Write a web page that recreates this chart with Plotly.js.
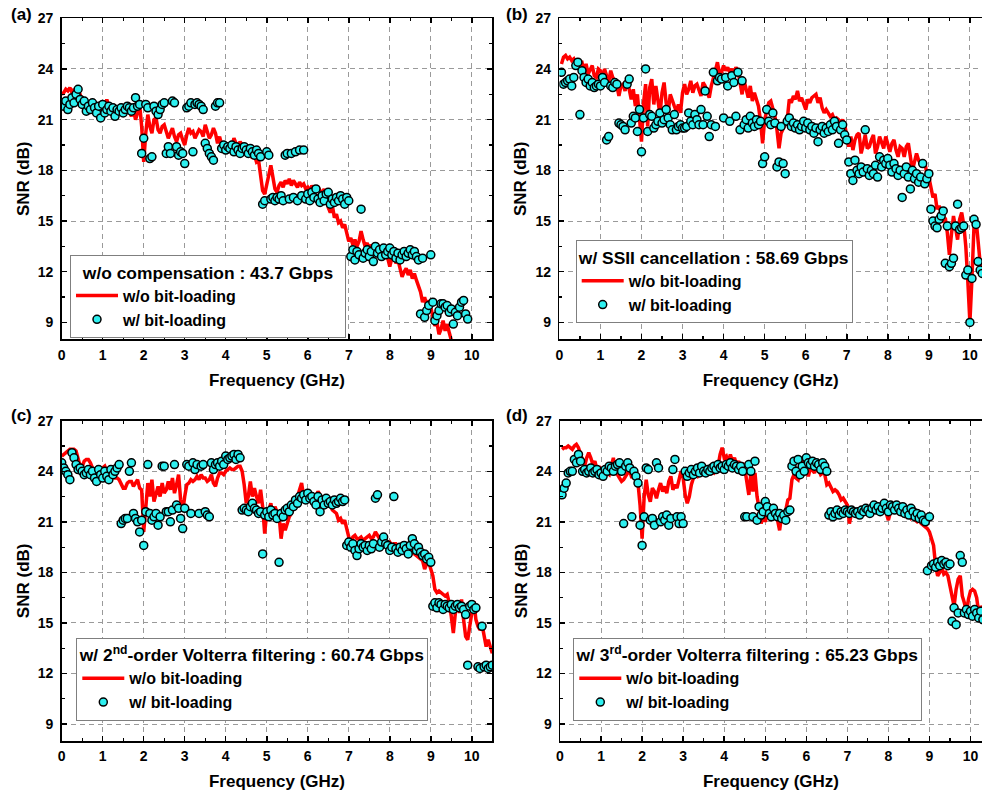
<!DOCTYPE html>
<html>
<head>
<meta charset="utf-8">
<script src="https://cdn.plot.ly/plotly-3.0.1.min.js"></script>
<style>html,body{margin:0;padding:0;background:#fff;}#chart{width:982px;height:795px;}</style>
</head>
<body>
<div id="chart"></div>
<script>
// ---------- data (SNR in dB, subcarriers every 0.05 GHz) ----------
const freqStep = 0.05;

// (a) w/o compensation
const aLineStart = 0.0;
const aLineSNR = [
22.5,22.6,22.8,22.7,22.9,22.6,22.8,22.4,22.7,22.5,
22.0,22.3,21.4,21.8,22.1,21.7,21.9,21.6,22.0,21.8,
21.4,21.7,22.2,21.8,21.5,21.9,21.6,21.3,21.7,21.5,
21.7,21.4,21.8,21.5,21.2,21.6,21.0,21.4,21.9,20.6,
18.5,20.2,21.3,20.6,20.2,21.0,21.1,20.4,20.2,20.6,
20.7,20.3,19.9,20.2,20.5,20.0,19.7,20.1,20.2,19.8,
19.5,20.1,20.5,20.2,20.3,19.9,20.2,20.4,20.3,20.0,
20.7,20.3,19.9,20.1,20.5,20.2,19.6,20.0,19.5,19.4,
19.3,19.5,19.2,19.4,19.9,19.6,19.4,19.7,19.5,19.2,
19.0,18.8,19.2,18.7,18.9,18.5,18.6,17.6,16.8,16.6,
17.2,17.9,18.3,17.6,16.9,16.7,17.1,17.3,17.0,17.4,
17.2,17.5,17.1,17.4,17.2,17.0,17.3,17.1,17.2,16.9,
17.0,16.8,17.1,16.9,16.7,17.0,16.8,16.6,16.9,16.5,
15.8,15.5,15.9,15.2,15.4,14.9,15.0,14.6,14.8,14.3,
13.8,14.0,13.6,13.9,13.5,13.8,14.4,13.9,13.5,13.7,
13.3,13.6,13.2,13.5,13.0,13.4,13.1,12.9,13.3,12.8,
12.3,12.8,13.0,12.5,12.7,12.2,11.7,12.0,12.2,11.8,
12.1,11.6,11.9,11.5,11.2,10.8,10.2,10.5,10.0,10.3,
9.9,9.4,8.8,9.0,8.3,8.6,9.1,8.5,8.9,8.4,
8.0,7.5
];
const aDotStart = 0.0;
const aDotSNR = [
22.0,21.8,22.1,21.6,21.9,22.3,22.0,22.5,22.8,22.2,
21.9,22.1,21.5,21.8,21.6,22.0,21.7,21.4,21.8,21.1,
21.9,21.4,21.6,21.8,21.5,21.7,21.2,21.6,21.5,21.7,
21.4,21.6,21.8,21.7,21.5,21.7,22.3,21.8,21.9,19.0,
19.9,21.9,21.7,18.7,18.8,21.8,21.5,21.3,21.6,21.9,
22.0,19.0,19.4,19.0,22.1,22.0,19.4,18.9,19.1,19.0,
18.4,21.7,21.8,22.0,19.1,21.9,22.0,21.9,21.8,21.6,
19.6,19.3,19.0,18.8,18.6,21.8,22.0,22.0,19.3,19.5,
19.2,19.4,19.3,19.5,19.1,19.4,19.2,19.0,19.3,19.4,
19.2,19.0,19.3,19.1,18.9,19.2,19.0,18.8,16.0,16.2,
19.1,18.9,16.3,16.4,16.2,16.4,16.3,16.5,16.2,18.9,
19.0,16.3,19.0,16.4,19.1,16.2,19.2,16.5,19.2,16.3,
16.6,16.2,16.7,16.4,16.9,16.3,16.1,16.5,16.2,16.6,
16.7,16.0,16.3,16.1,16.4,16.2,16.5,16.3,16.0,16.4,
16.2,12.9,13.3,12.7,13.2,13.0,15.7,12.8,13.1,13.3,
12.9,13.2,12.6,13.5,13.1,13.3,12.9,13.4,13.0,13.2,
13.4,13.0,13.2,12.8,13.1,12.7,13.0,13.2,12.9,13.1,
13.3,13.0,13.2,12.9,12.7,9.5,12.8,9.3,9.7,10.0,
13.0,10.2,9.1,9.4,9.7,10.1,10.1,9.9,10.0,9.6,
9.8,8.9,9.6,9.4,9.9,10.2,10.3,9.5,9.2
];

// (b) w/ SSII cancellation
const bLineStart = 0.05;
const bLineSNR = [
24.3,24.7,24.8,24.6,24.7,24.5,24.6,24.3,24.0,24.4,
24.4,23.8,24.3,23.7,23.9,24.2,23.6,23.5,24.0,23.9,
23.5,24.0,23.6,23.2,23.9,23.5,23.3,23.0,22.4,23.0,
23.1,22.7,23.4,22.9,22.2,22.8,21.8,22.5,21.2,19.7,
22.0,23.1,20.6,22.9,23.4,21.9,23.0,22.1,21.3,22.6,
23.2,22.0,21.4,22.5,22.1,21.8,21.5,21.9,21.4,22.6,
23.1,22.5,22.8,23.3,22.6,23.0,23.1,22.7,22.4,23.2,
23.0,22.6,22.3,23.0,23.4,23.9,24.4,23.7,23.8,24.2,
23.9,24.1,23.8,24.0,23.7,24.1,23.9,23.2,22.5,23.3,
22.8,22.3,23.0,22.1,22.6,22.2,21.8,20.9,19.6,21.0,
21.5,22.0,22.1,21.6,21.2,20.4,19.3,20.2,20.5,20.8,
21.0,22.2,22.0,22.4,22.2,22.7,22.1,22.3,21.9,21.6,
22.2,22.0,22.3,22.4,22.5,22.0,22.3,21.7,21.4,21.6,
21.4,21.2,21.3,21.0,21.1,21.0,20.8,21.0,20.7,20.0,
19.4,20.0,19.2,19.8,20.1,20.2,19.0,19.5,20.1,19.3,
19.4,19.8,20.1,19.0,19.4,20.0,19.6,19.3,20.0,19.5,
19.1,19.6,19.8,19.2,18.8,19.4,19.3,18.8,19.4,19.6,
18.8,18.0,18.5,19.0,18.6,18.4,18.2,18.5,17.8,17.6,
17.0,16.4,16.6,15.7,15.9,15.5,14.9,15.2,14.3,13.0,
14.2,15.3,14.6,13.9,15.1,15.5,14.8,13.5,11.4,9.0,
11.6,14.7,15.1,13.8,12.5,11.8
];
const bDotStart = 0.05;
const bDotSNR = [
23.8,23.1,23.2,23.3,23.4,23.0,23.5,24.2,24.4,21.3,
23.9,23.5,23.2,23.4,23.0,23.2,22.9,23.0,23.1,23.0,
23.5,23.2,19.8,20.0,23.0,22.9,23.2,23.1,20.8,20.7,
20.6,20.4,23.1,23.4,20.8,21.2,21.1,20.3,21.6,19.1,
21.1,24.0,20.3,21.3,21.2,20.5,20.7,20.9,21.4,20.8,
21.0,21.6,21.1,20.7,20.4,21.3,20.4,20.6,20.7,20.5,
20.5,20.6,21.4,20.9,20.7,21.3,21.0,20.7,21.6,20.7,
22.7,21.2,20.0,20.7,23.8,20.6,23.3,23.5,23.4,21.1,
23.5,23.0,20.9,23.6,23.2,21.2,23.8,20.4,23.3,20.7,
21.0,20.5,21.2,20.8,20.6,21.0,20.7,20.9,18.4,18.8,
21.6,20.9,20.7,21.4,20.8,18.2,18.5,20.6,18.4,17.8,
20.9,21.1,20.6,20.8,20.5,20.7,20.4,20.6,20.9,20.5,
20.8,20.4,20.6,20.2,20.5,19.7,20.4,20.6,20.2,20.5,
20.3,20.7,20.4,20.9,20.6,19.6,20.4,20.7,20.1,19.8,
18.5,17.8,17.4,18.6,18.0,17.8,18.2,17.9,20.4,18.1,
17.7,18.0,17.8,18.3,17.6,18.8,18.2,18.6,18.4,18.7,
18.3,17.9,18.4,18.1,17.7,18.0,16.4,17.8,18.2,17.6,
16.9,18.0,17.5,17.8,17.3,17.6,18.4,17.2,17.5,17.8,
15.7,15.0,14.7,14.6,15.1,15.3,15.6,12.5,14.7,12.3,
12.5,12.8,14.7,16.0,14.5,14.6,14.7,11.8,12.1,9.0,
11.6,15.1,14.8,12.6,12.1,11.9
];

// (c) w/ 2nd-order Volterra filtering
const cLineStart = 0.0;
const cLineSNR = [
24.9,25.0,25.1,25.2,25.3,25.3,25.3,25.2,24.8,24.3,
24.3,24.6,24.7,24.7,24.5,24.2,24.1,24.2,24.0,23.9,
24.2,24.3,24.0,24.0,23.7,23.8,23.6,23.6,23.5,23.2,
23.0,23.0,23.3,23.4,23.4,23.1,23.3,23.5,23.0,22.9,
20.4,21.8,23.3,22.5,23.5,22.2,22.6,23.1,22.5,23.3,
22.7,22.9,23.4,22.9,23.6,22.7,23.2,23.8,22.3,21.6,
22.5,23.2,23.3,23.5,23.4,23.5,23.7,23.5,23.8,23.6,
23.6,23.4,23.5,23.8,23.3,23.1,23.6,23.9,23.9,23.8,
24.0,24.1,24.2,24.1,24.1,24.2,24.3,24.3,24.0,23.2,
22.1,22.5,23.4,22.5,23.0,22.5,22.1,22.9,21.9,20.3,
21.6,21.7,22.1,21.3,21.9,21.6,21.4,20.0,20.9,20.5,
20.9,21.3,21.5,21.9,22.2,22.5,22.9,23.3,22.5,22.3,
22.6,22.5,22.2,22.3,22.5,22.8,22.6,22.2,22.3,22.4,
22.1,22.0,21.7,21.6,21.5,21.1,21.2,20.9,21.1,20.6,
20.1,19.6,20.1,20.2,20.0,20.0,20.1,19.9,20.0,20.1,
20.2,20.0,20.1,20.4,20.2,20.0,20.2,19.9,19.6,19.7,
19.8,19.6,19.7,19.7,19.5,19.4,19.5,19.3,19.3,19.2,
19.3,19.4,19.1,19.0,18.9,18.8,18.7,18.2,18.5,18.6,
18.2,17.8,17.0,16.8,16.9,16.8,16.7,16.6,16.7,16.2,
15.4,14.4,15.6,16.2,15.6,16.4,15.2,14.2,14.0,15.0,
15.6,16.3,15.2,14.8,14.6,14.9,14.2,13.6,14.0,13.5,
13.2
];
const cDotStart = 0.0;
const cDotSNR = [
24.5,24.2,24.0,23.8,23.5,25.1,24.8,24.4,24.1,24.2,
24.0,23.8,23.9,24.1,23.8,24.0,23.6,23.4,24.1,23.8,
23.6,24.0,23.7,23.5,24.1,23.8,24.0,24.2,24.4,20.9,
21.1,21.2,21.2,24.0,24.5,21.5,21.2,21.0,20.4,21.1,
19.6,21.6,24.4,21.5,21.1,21.3,21.5,20.8,21.3,24.3,
24.3,21.6,21.6,21.0,21.7,24.4,22.0,21.8,21.2,20.6,
21.8,24.4,24.3,21.5,24.5,24.1,24.4,21.5,24.3,24.4,
21.6,21.4,21.3,24.5,24.1,24.4,24.5,24.3,24.6,24.4,
24.9,24.7,24.8,24.9,25.0,24.7,25.0,24.8,21.7,21.8,
21.7,21.6,21.9,22.1,21.8,21.7,21.5,21.6,19.1,21.4,
21.6,21.3,21.7,21.4,21.5,21.2,18.6,21.5,21.3,21.7,
21.8,21.6,22.0,21.9,22.3,22.1,22.5,22.4,22.6,22.3,
22.7,22.4,22.5,22.2,22.0,22.5,21.6,22.3,22.0,22.4,
22.1,22.2,22.0,22.3,22.1,22.2,22.4,22.2,22.3,19.6,
19.8,19.5,19.7,19.3,19.0,19.4,19.7,19.5,19.6,19.3,
19.6,19.4,19.7,22.4,22.6,19.5,19.8,20.1,19.7,19.6,
19.3,19.5,22.5,19.4,19.2,19.5,19.3,19.6,19.4,19.1,
19.6,20.0,19.7,19.3,19.5,19.2,19.0,19.1,18.8,18.9,
18.6,16.0,16.2,15.9,16.2,16.1,15.8,16.1,16.0,15.9,
16.1,15.8,16.0,16.1,15.9,16.0,15.8,15.5,12.5,16.0,
16.1,15.8,15.9,12.4,12.3,14.8,12.4,12.5,12.3,12.4,
12.5
];

// (d) w/ 3rd-order Volterra filtering
const dLineStart = 0.05;
const dLineSNR = [
25.3,25.4,25.4,25.5,25.4,25.3,25.5,25.6,25.4,25.0,
24.6,24.3,24.8,25.1,24.8,24.4,24.6,24.1,24.3,24.0,
23.8,24.2,23.9,23.8,24.3,24.8,23.9,23.8,23.6,23.4,
23.5,23.7,23.9,24.0,23.6,23.9,23.5,23.3,22.0,20.0,
22.5,23.5,22.6,22.2,23.0,22.8,22.4,22.9,23.3,22.8,
23.1,22.7,23.4,23.7,22.9,23.2,23.0,23.5,24.0,23.6,
22.6,22.1,22.5,23.2,23.6,23.8,23.7,23.9,23.8,23.9,
24.0,23.8,24.1,24.0,23.9,24.1,24.3,25.0,25.4,24.8,
24.9,24.5,25.0,24.6,24.8,24.4,24.6,24.3,24.5,24.2,
23.2,22.6,23.9,22.8,23.9,22.5,21.8,20.9,21.4,21.0,
21.5,21.9,21.6,21.9,21.7,21.2,20.5,21.4,21.5,21.7,
22.3,22.4,23.5,23.8,23.6,23.5,24.1,24.3,24.8,24.4,
23.7,24.2,24.0,23.9,24.3,24.1,23.8,23.9,23.8,23.2,
23.3,23.0,22.8,22.9,22.8,22.6,22.3,22.4,22.2,22.0,
20.9,21.5,21.7,21.6,21.4,21.6,21.7,21.5,21.8,21.6,
21.7,21.5,21.8,21.7,21.9,21.7,21.8,21.6,21.5,21.1,
21.6,21.8,21.6,21.7,21.5,21.6,21.4,21.5,21.3,21.4,
21.2,21.3,21.1,21.0,21.1,20.9,20.8,20.7,20.6,20.4,
20.0,19.6,18.4,17.8,18.0,18.3,17.9,18.0,17.8,17.2,
16.8,16.0,17.0,17.6,17.8,16.6,16.2,15.6,16.4,16.9,
17.0,16.9,16.5,15.6,16.0,15.8
];
const dDotStart = 0.05;
const dDotSNR = [
22.6,23.0,23.3,23.9,24.0,24.0,24.7,24.5,25.0,24.6,
24.0,24.1,23.9,24.0,24.2,23.9,24.0,24.1,23.8,23.9,
23.7,24.1,24.0,24.3,24.2,24.0,24.3,24.4,24.5,24.0,
20.9,24.3,24.5,24.2,21.3,24.0,23.7,23.3,20.8,19.6,
21.3,24.2,24.1,21.1,21.2,20.8,24.5,24.2,21.0,21.3,
21.1,21.4,20.8,21.2,24.1,24.7,21.3,20.9,21.3,20.9,
24.0,23.7,23.9,24.1,23.8,24.0,24.2,23.9,24.3,24.0,
23.9,24.1,24.0,24.2,24.3,24.1,24.4,24.2,24.3,24.1,
24.4,24.3,24.5,24.2,24.4,24.3,24.1,24.3,24.0,21.3,
21.3,24.4,24.0,21.3,24.6,21.1,21.9,21.4,21.6,22.2,
21.9,21.5,21.3,21.8,21.5,21.3,21.5,21.2,21.4,21.1,
21.6,21.7,24.3,24.6,24.0,24.7,23.8,24.3,24.0,24.8,
24.5,24.4,24.6,24.3,24.5,24.4,24.1,24.5,24.3,24.0,
21.4,21.6,21.3,21.5,21.7,21.4,21.6,21.5,21.7,21.6,
21.5,21.7,21.6,21.5,21.6,21.4,21.7,21.6,21.8,21.7,
21.5,21.8,22.0,21.7,21.9,21.6,21.8,22.1,21.8,21.6,
22.0,21.9,21.7,22.0,21.8,21.6,21.9,21.5,21.7,21.4,
21.8,21.6,21.3,21.5,21.2,21.4,21.1,21.0,18.1,21.3,
18.4,18.5,18.3,18.6,18.4,18.7,18.5,18.6,18.4,18.5,
15.1,15.9,14.9,15.6,19.0,18.6,15.6,15.8,15.5,15.7,
15.4,15.8,15.6,15.3,15.7,15.2
];

// legend / panel texts
const panelLabels = ['(a)', '(b)', '(c)', '(d)'];
const legendTitles = [
  '&nbsp;&nbsp;w/o compensation : 43.7 Gbps&nbsp;&nbsp;',
  'w/ SSII cancellation : 58.69 Gbps',
  'w/ 2<sup>nd</sup>-order Volterra filtering : 60.74 Gbps',
  'w/ 3<sup>rd</sup>-order Volterra filtering : 65.23 Gbps'
];
const lineName = 'w/o bit-loading';
const dotName = 'w/ bit-loading';
const xTitle = 'Frequency (GHz)';
const yTitle = 'SNR (dB)';

// ---------- styling ----------
const FONT = 'Liberation Sans, Arial, Helvetica, sans-serif';
const RED = '#ff0000';
const CYAN = '#2ef0f0';

const panels = [
  {line: aLineSNR, l0: aLineStart, dot: aDotSNR, d0: aDotStart, xa: 'x', ya: 'y', leg: 'legend'},
  {line: bLineSNR, l0: bLineStart, dot: bDotSNR, d0: bDotStart, xa: 'x2', ya: 'y2', leg: 'legend2'},
  {line: cLineSNR, l0: cLineStart, dot: cDotSNR, d0: cDotStart, xa: 'x3', ya: 'y3', leg: 'legend3'},
  {line: dLineSNR, l0: dLineStart, dot: dDotSNR, d0: dDotStart, xa: 'x4', ya: 'y4', leg: 'legend4'}
];

const traces = [];
panels.forEach(p => {
  traces.push({
    type: 'scatter', mode: 'lines', name: lineName,
    x0: p.l0, dx: freqStep, y: p.line,
    xaxis: p.xa, yaxis: p.ya, legend: p.leg,
    line: {color: RED, width: 3.5}
  });
  traces.push({
    type: 'scatter', mode: 'markers', name: dotName,
    x0: p.d0, dx: freqStep, y: p.dot,
    xaxis: p.xa, yaxis: p.ya, legend: p.leg,
    marker: {color: CYAN, size: 8, line: {color: '#000', width: 1.5}},
    cliponaxis: true
  });
});

function xAxis(domain, range, anchor) {
  return {
    domain: domain, range: range, anchor: anchor,
    tick0: 0, dtick: 1, ticks: 'inside', ticklen: 5, tickwidth: 1.5, tickcolor: '#000',
    showline: true, linecolor: '#000', linewidth: 1.5, mirror: 'ticks',
    showgrid: true, gridcolor: '#9a9a9a', gridwidth: 1, griddash: '5px,4px',
    zeroline: false,
    minor: {dtick: 0.5, tick0: 0, ticks: 'inside', ticklen: 3, tickwidth: 1.2, tickcolor: '#000', showgrid: false},
    tickfont: {family: FONT, size: 14, color: '#000', weight: 'bold'},
    ticklabelstandoff: 2,
    title: {text: xTitle, font: {family: FONT, size: 17, color: '#000', weight: 'bold'}, standoff: 12}
  };
}
function yAxis(domain, anchor, mirror) {
  return {
    domain: domain, range: [8, 27], anchor: anchor,
    tick0: 0, dtick: 3, ticks: 'inside', ticklen: 5, tickwidth: 1.5, tickcolor: '#000',
    showline: true, linecolor: '#000', linewidth: 1.5, mirror: mirror,
    showgrid: true, gridcolor: '#9a9a9a', gridwidth: 1, griddash: '5px,4px',
    zeroline: false,
    minor: {dtick: 1.5, tick0: 0, ticks: 'inside', ticklen: 3, tickwidth: 1.2, tickcolor: '#000', showgrid: false},
    tickfont: {family: FONT, size: 14, color: '#000', weight: 'bold'},
    ticklabelstandoff: 4,
    title: {text: yTitle, font: {family: FONT, size: 17, color: '#000', weight: 'bold'}, standoff: 4}
  };
}
function legendCfg(x, y, title) {
  return {
    x: x, y: y, xanchor: 'left', yanchor: 'top', xref: 'paper', yref: 'paper',
    bgcolor: '#fff', bordercolor: '#7f7f7f', borderwidth: 1,
    font: {family: FONT, size: 16, color: '#000', weight: 'bold'},
    title: {text: title, side: 'top center', font: {family: FONT, size: 17.4, color: '#000', weight: 'bold'}},
    itemwidth: 42, tracegroupgap: 0, traceorder: 'normal'
  };
}

const W = 982, H = 795;
const leftDom = [61.7 / W, 492.3 / W];
const rightDomB = [559.4 / W, 1];
const rightDomD = [560 / W, 1];
const topDom = [1 - 339.3 / H, 1 - 18.3 / H];
const botDom = [1 - 741 / H, 1 - 420.7 / H];

const layout = {
  width: W, height: H,
  margin: {l: 0, r: 0, t: 0, b: 0},
  paper_bgcolor: '#fff', plot_bgcolor: '#fff',
  showlegend: true,
  font: {family: FONT, color: '#000'},
  xaxis: xAxis(leftDom, [0, 10.5], 'y'),
  yaxis: yAxis(topDom, 'x', 'ticks'),
  xaxis2: xAxis(rightDomB, [0, (W - 559.4) / 41.05], 'y2'),
  yaxis2: yAxis(topDom, 'x2', false),
  xaxis3: xAxis(leftDom, [0, 10.5], 'y3'),
  yaxis3: yAxis(botDom, 'x3', 'ticks'),
  xaxis4: xAxis(rightDomD, [0, (W - 560) / 41.05], 'y4'),
  yaxis4: yAxis(botDom, 'x4', false),
  legend: legendCfg(70 / W, 1 - 255 / H, legendTitles[0]),
  legend2: legendCfg(575.7 / W, 1 - 240.3 / H, legendTitles[1]),
  legend3: legendCfg(76.3 / W, 1 - 637.7 / H, legendTitles[2]),
  legend4: legendCfg(573.3 / W, 1 - 637.7 / H, legendTitles[3]),
  annotations: [
    {text: panelLabels[0], x: 21 / W, y: 1 - 15 / H},
    {text: panelLabels[1], x: 517 / W, y: 1 - 15 / H},
    {text: panelLabels[2], x: 21 / W, y: 1 - 415 / H},
    {text: panelLabels[3], x: 517 / W, y: 1 - 415 / H}
  ].map(a => Object.assign(a, {xref: 'paper', yref: 'paper', showarrow: false,
      xanchor: 'center', yanchor: 'middle',
      font: {family: FONT, size: 17, color: '#000', weight: 'bold'}}))
};

Plotly.newPlot('chart', traces, layout, {displayModeBar: false, staticPlot: true});
</script>
</body>
</html>
